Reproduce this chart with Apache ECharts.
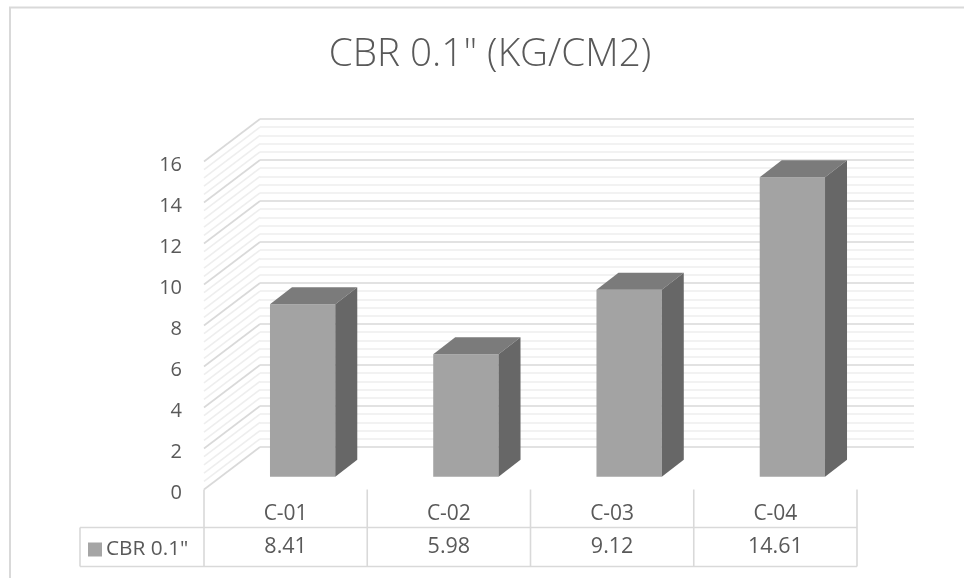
<!DOCTYPE html>
<html>
<head>
<meta charset="utf-8">
<style>html,body{margin:0;padding:0;background:#fff}#chart{width:964px;height:578px}</style>
<script src="https://cdn.jsdelivr.net/npm/echarts@6/dist/echarts.min.js"></script>
</head>
<body>
<div id="chart"></div>
<script>
const chartTitle = 'CBR 0.1" (KG/CM2)';
const seriesName = 'CBR 0.1"';
const categories = ['C-01', 'C-02', 'C-03', 'C-04'];
const cbrValues = [8.41, 5.98, 9.12, 14.61];
const valueLabels = ['8.41', '5.98', '9.12', '14.61'];

// Pseudo-3D layout: the floor recedes up and to the right.
const FLOOR_DX = 56, FLOOR_DY = 42.5;
const BAR_DX = 22, BAR_DY = 17;
const BAR_WIDTH_RATIO = 0.4;
const LINE = '#d9d9d9', MINOR = '#eeeeee', TEXT = '#595959';
const FONT = '"Open Sans", sans-serif';

const chart = echarts.init(document.getElementById('chart'));

function line(x1, y1, x2, y2, stroke, width) {
  return { type: 'line', shape: { x1, y1, x2, y2 }, style: { stroke, lineWidth: width || 1.6 }, silent: true };
}

// Diagonal gridlines on the side wall, from the value axis back to the rear wall.
function renderSideWall(params, api) {
  const v = api.value(0);
  const p = api.coord([0, v]);
  const x0 = params.coordSys.x;
  const major = Math.abs(v / 2 - Math.round(v / 2)) < 1e-6;
  return line(x0, p[1], x0 + FLOOR_DX, p[1] - FLOOR_DY, major ? LINE : MINOR, 1.6);
}

// One box per value: front face, top face, right side.
function renderBox(params, api) {
  const i = api.value(0);
  const base = api.coord([i, 0]);
  const top = api.coord([i, api.value(1)]);
  const w = api.size([1, 0])[0] * BAR_WIDTH_RATIO;
  const ox = FLOOR_DX / 2 - BAR_DX / 2, oy = FLOOR_DY / 2 - BAR_DY / 2;
  const l = base[0] - w / 2 + ox, r = l + w, b = base[1] - oy, t = top[1] - oy;
  const poly = (points, fill) => ({ type: 'polygon', shape: { points }, style: { fill } });
  return {
    type: 'group',
    children: [
      poly([[l, b], [r, b], [r, t], [l, t]], '#a3a3a3'),
      poly([[l, t], [r, t], [r + BAR_DX, t - BAR_DY], [l + BAR_DX, t - BAR_DY]], '#7b7b7b'),
      poly([[r, b], [r + BAR_DX, b - BAR_DY], [r + BAR_DX, t - BAR_DY], [r, t]], '#676767')
    ]
  };
}

// Data table under the plot: rule lines plus the value row.
function renderTableCell(params, api) {
  const i = api.value(0);
  const c = api.coord([i, 0]);
  return {
    type: 'text',
    style: {
      x: c[0], y: c[1] + 57.5, text: valueLabels[i], fill: TEXT,
      font: '21.5px ' + FONT, align: 'center', verticalAlign: 'middle'
    }
  };
}

function renderTableRules(params) {
  const s = params.coordSys;
  const y0 = s.y + s.height, y1 = y0 + 38, y2 = y0 + 77, legendX = 80, right = s.x + s.width;
  const kids = [
    line(legendX, y1, right, y1, LINE),
    line(legendX, y2, right, y2, LINE),
    line(legendX, y1, legendX, y2, LINE)
  ];
  for (let k = 0; k <= categories.length; k++) {
    const x = s.x + s.width * k / categories.length;
    kids.push(line(x, y0, x, y2, LINE));
  }
  return { type: 'group', children: kids };
}

const gridTicks = [];
for (let n = 0; n <= 40; n++) gridTicks.push([n * 0.4]);

chart.setOption({
  animation: false,
  backgroundColor: '#fff',
  title: {
    text: chartTitle, left: 485, top: 30, textAlign: 'center',
    textStyle: { fontFamily: FONT, fontWeight: 300, fontSize: 38.7, color: TEXT }
  },
  legend: {
    data: [seriesName], left: 83, top: 534, itemWidth: 14, itemHeight: 14, itemGap: 6,
    icon: 'rect', textStyle: { fontFamily: FONT, fontSize: 20.8, color: TEXT, padding: [0, 0, 0, -1] }
  },
  grid: [
    { left: 204, top: 161.5, width: 653, height: 328 },
    { left: 260, top: 119, width: 654, height: 328 },
    { left: 204, top: 165.5, width: 653, height: 328 }
  ],
  xAxis: [
    {
      type: 'category', data: categories, gridIndex: 0,
      axisLine: { show: false }, axisTick: { show: false },
      axisLabel: { fontFamily: FONT, fontSize: 21, color: TEXT, margin: 14 }
    },
    { type: 'value', gridIndex: 1, show: false, min: 0, max: 1 },
    { type: 'value', gridIndex: 2, show: false, min: 0, max: 1 }
  ],
  yAxis: [
    {
      type: 'value', gridIndex: 0, min: 0, max: 16, interval: 2,
      axisLine: { show: false }, axisTick: { show: false }, splitLine: { show: false },
      axisLabel: { show: false }
    },
    {
      type: 'value', gridIndex: 1, min: 0, max: 16, interval: 2,
      axisLine: { show: false }, axisTick: { show: false }, axisLabel: { show: false },
      splitLine: { show: true, lineStyle: { color: LINE, width: 1.6 } },
      minorTick: { show: false, splitNumber: 5 },
      minorSplitLine: { show: true, lineStyle: { color: MINOR, width: 1.6 } }
    },
    // Tick labels sit slightly below their gridlines, so they get their own axis.
    {
      type: 'value', gridIndex: 2, min: 0, max: 16, interval: 2,
      axisLine: { show: false }, axisTick: { show: false }, splitLine: { show: false },
      axisLabel: { fontFamily: FONT, fontSize: 20, color: TEXT, margin: 22 }
    }
  ],
  series: [
    { type: 'custom', xAxisIndex: 0, yAxisIndex: 0, silent: true, clip: false, z: 1,
      data: gridTicks, encode: { y: 0 }, renderItem: renderSideWall },
    { type: 'custom', name: seriesName, xAxisIndex: 0, yAxisIndex: 0, clip: false, z: 3,
      itemStyle: { color: '#a5a5a5' },
      data: cbrValues.map((v, i) => [i, v]), encode: { x: 0, y: 1 }, renderItem: renderBox },
    { type: 'custom', xAxisIndex: 0, yAxisIndex: 0, silent: true, clip: false, z: 4,
      data: [[0]], renderItem: renderTableRules },
    { type: 'custom', xAxisIndex: 0, yAxisIndex: 0, silent: true, clip: false, z: 4,
      data: categories.map((c, i) => [i]), encode: { x: 0 }, renderItem: renderTableCell }
  ],
  graphic: [
    { type: 'polyline', silent: true, z: -1,
      shape: { points: [[10, 578], [10, 7.5], [964, 7.5]] },
      style: { fill: 'none', stroke: LINE, lineWidth: 2 } }
  ]
});
</script>
</body>
</html>
